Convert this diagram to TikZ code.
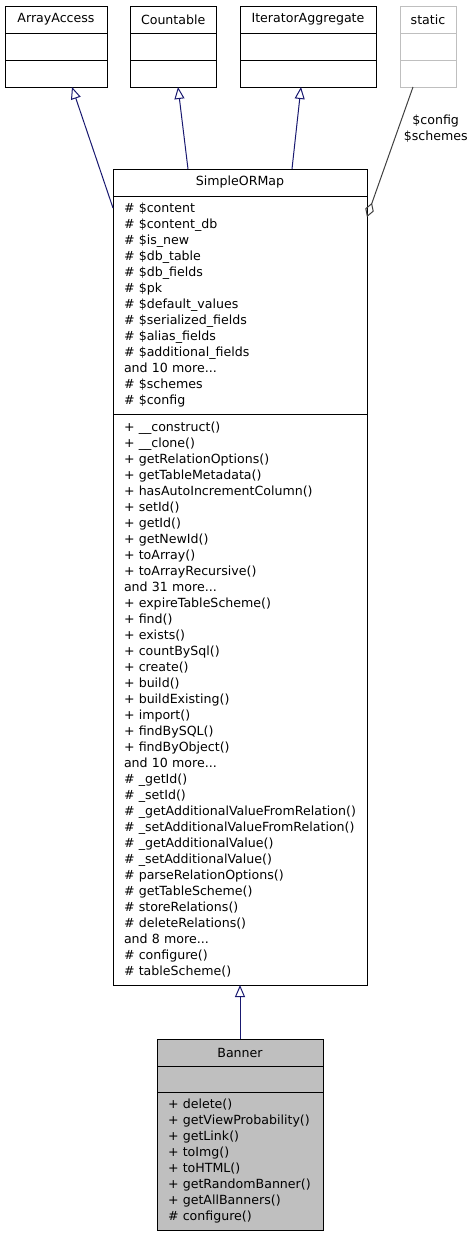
\documentclass[tikz,border=0pt]{standalone}
\usepackage{fontspec}
\setmainfont{DejaVu Sans}
\usetikzlibrary{positioning,arrows.meta}
\definecolor{edgeblue}{HTML}{191970}
\definecolor{edgegray}{HTML}{404040}
\definecolor{boxgray}{HTML}{BFBFBF}
\tikzstyle{cls} = [rectangle, draw, line width=1pt, outer sep=0pt,
    inner ysep=0pt, inner xsep=11pt, font=\fontsize{12.6}{16}\selectfont]
\tikzstyle{clsTitle} = [cls, minimum height=27pt, align=center]
\tikzstyle{members} = [cls, align=left]
\tikzstyle{inherit} = [-{Triangle[open,length=12pt,width=10pt]}, line width=1pt, edgeblue]
\tikzstyle{usage} = [{Diamond[open,length=15pt,width=9pt]}-, line width=1pt, edgegray]

\begin{document}
\begin{tikzpicture}[x=1pt, y=-1pt]
        \useasboundingbox (0,0) rectangle (476,1237);
        % Nodes
        \node (arrayAccess) [clsTitle, text width=80pt] at (56,19.5) {ArrayAccess};
        \node (arrayAccessAttr) [members, text width=80pt, minimum height=27pt, below=0pt of arrayAccess] {};
        \node (arrayAccessOps) [members, text width=80pt, minimum height=27pt, below=0pt of arrayAccessAttr] {};

        \node (countable) [clsTitle, text width=64pt] at (173,19.5) {Countable};
        \node (countableAttr) [members, text width=64pt, minimum height=27pt, below=0pt of countable] {};
        \node (countableOps) [members, text width=64pt, minimum height=27pt, below=0pt of countableAttr] {};

        \node (iterAgg) [clsTitle, text width=114pt] at (308,19.5) {IteratorAggregate};
        \node (iterAggAttr) [members, text width=114pt, minimum height=27pt, below=0pt of iterAgg] {};
        \node (iterAggOps) [members, text width=114pt, minimum height=27pt, below=0pt of iterAggAttr] {};

        \node (staticCls) [clsTitle, draw=boxgray, inner xsep=6pt, text width=44pt] at (428,19.5) {static};
        \node (staticClsAttr) [members, draw=boxgray, inner xsep=6pt, text width=44pt, minimum height=27pt, below=0pt of staticCls] {};
        \node (staticClsOps) [members, draw=boxgray, inner xsep=6pt, text width=44pt, minimum height=27pt, below=0pt of staticClsAttr] {};

        \node (simpleORMap) [clsTitle, text width=232pt] at (240,182.5) {SimpleORMap};
        \node (simpleORMapAttr) [members, text width=232pt, minimum height=218pt, below=0pt of simpleORMap] {\# \$content\\
            \# \$content\_db\\
            \# \$is\_new\\
            \# \$db\_table\\
            \# \$db\_fields\\
            \# \$pk\\
            \# \$default\_values\\
            \# \$serialized\_fields\\
            \# \$alias\_fields\\
            \# \$additional\_fields\\
            and 10 more...\\
            \# \$schemes\\
            \# \$config};
        \node (simpleORMapOps) [members, text width=232pt, minimum height=571pt, below=0pt of simpleORMapAttr] {+ \_\_construct()\\
            + \_\_clone()\\
            + getRelationOptions()\\
            + getTableMetadata()\\
            + hasAutoIncrementColumn()\\
            + setId()\\
            + getId()\\
            + getNewId()\\
            + toArray()\\
            + toArrayRecursive()\\
            and 31 more...\\
            + expireTableScheme()\\
            + find()\\
            + exists()\\
            + countBySql()\\
            + create()\\
            + build()\\
            + buildExisting()\\
            + import()\\
            + findBySQL()\\
            + findByObject()\\
            and 10 more...\\
            \# \_getId()\\
            \# \_setId()\\
            \# \_getAdditionalValueFromRelation()\\
            \# \_setAdditionalValueFromRelation()\\
            \# \_getAdditionalValue()\\
            \# \_setAdditionalValue()\\
            \# parseRelationOptions()\\
            \# getTableScheme()\\
            \# storeRelations()\\
            \# deleteRelations()\\
            and 8 more...\\
            \# configure()\\
            \# tableScheme()};

        \node (banner) [clsTitle, fill=boxgray, text width=144pt] at (240,1052.5) {Banner};
        \node (bannerAttr) [members, fill=boxgray, text width=144pt, minimum height=26pt, below=0pt of banner] {};
        \node (bannerOps) [members, fill=boxgray, text width=144pt, minimum height=138pt, below=0pt of bannerAttr] {+ delete()\\
            + getViewProbability()\\
            + getLink()\\
            + toImg()\\
            + toHTML()\\
            + getRandomBanner()\\
            + getAllBanners()\\
            \# configure()};

        % Arrows
        \draw[inherit] ([yshift=-12pt]simpleORMapAttr.north west) -- ([xshift=16pt]arrayAccessOps.south);
        \draw[inherit] ([xshift=-52pt]simpleORMap.north) -- ([xshift=5pt]countableOps.south);
        \draw[inherit] ([xshift=52pt]simpleORMap.north) -- ([xshift=-7pt]iterAggOps.south);
        \draw[usage] ([yshift=-21pt]simpleORMapAttr.north east) -- ([xshift=-15pt]staticClsOps.south)
            node[pos=0.68, anchor=west, xshift=5pt, align=center, inner sep=0pt, text=black,
                 font=\fontsize{12.6}{16}\selectfont] (usageLabel) {\$config\\\$schemes};
        \draw[inherit] (banner.north) -- (simpleORMapOps.south);
    \end{tikzpicture}
\end{document}
